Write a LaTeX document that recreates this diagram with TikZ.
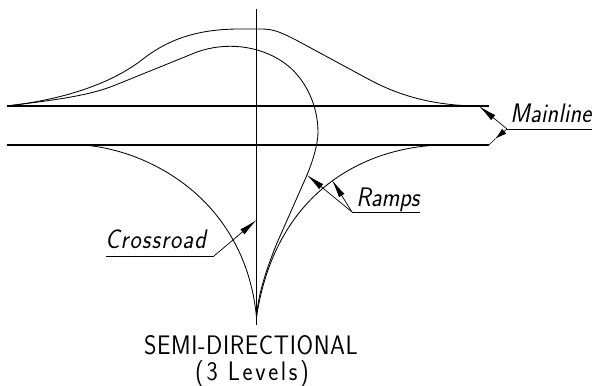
\documentclass[tikz,border=0pt]{standalone}
\usepackage{fontspec}
\setsansfont{Latin Modern Sans}
\usetikzlibrary{arrows.meta}
\newcommand{\cadtext}[2]{\scalebox{1}[1.12]{\addfontfeature{LetterSpace=#1}#2}}
\tikzset{
  road/.style={line width=1.1pt},
  ramp/.style={line width=0.6pt},
  thinline/.style={line width=0.5pt},
  leader/.style={thinline,-{Latex[length=13pt,width=4.6pt]}},
  shortleader/.style={thinline,-{Latex[length=8.5pt,width=4.6pt]}},
  tag/.style={font=\sffamily\itshape\fontsize{17pt}{17pt}\selectfont,inner sep=0pt,anchor=base west},
  title/.style={font=\sffamily\fontsize{17pt}{17pt}\selectfont,inner sep=0pt,anchor=base}
}
\begin{document}
\begin{tikzpicture}[x=0.025cm,y=-0.025cm]
  \useasboundingbox (0,0) rectangle (593,386);
  %mainline
  \draw[road] (7,106) -- (489,106);
  \draw[road] (7,145) -- (489,145);
  %crossroad
  \draw[line width=0.7pt] (256.5,9) -- (256.5,325);
  %ramps
  \draw[ramp] (7,106) .. controls (60,100) and (110,85) .. (143,59) .. controls (170,38) and (200,29) .. (240,29) -- (262,29) .. controls (275,29) and (284,34) .. (296,40) -- (370,80) .. controls (400,96) and (435,106) .. (480,106);
  \draw[ramp] (7,106) .. controls (45,101) and (85,97) .. (113,86) -- (197,52) .. controls (225,42) and (258,45) .. (283,62) .. controls (305,77) and (318,105) .. (318,132) .. controls (318,145) and (312,163) .. (307,175);
  \draw[ramp] (307,175) -- (277,243) .. controls (266,270) and (258,295) .. (256.5,317);
  \draw[ramp] (83,145) .. controls (150,150) and (245,200) .. (256.5,317);
  \draw[ramp] (440,145) .. controls (360,148) and (275,195) .. (256.5,317);
  %labels
  \node[tag] (mainlinetext) at (510,123) {\cadtext{1}{Mainline}};
  \node[tag] (rampstext) at (356,207) {\cadtext{0}{Ramps}};
  \node[tag] (crossroadtext) at (105,249) {\cadtext{4.7}{Crossroad}};
  \node[title] (titletext) at (251,355) {\cadtext{2.5}{SEMI-DIRECTIONAL}};
  \node[title] (leveltext) at (252,381) {\cadtext{11}{(3 Levels)}};
  %leaders
  \coordinate (mainlinea) at (507,129);
  \coordinate (mainlineb) at (592,129);
  \coordinate (mainlinetop) at (479,106);
  \coordinate (mainlinemid) at (495,139);
  \coordinate (mainlinebot) at (489,145);
  \draw[thinline] (mainlinea) -- (mainlineb);
  \draw[leader] (mainlinea) -- (mainlinetop);
  \draw[shortleader] (mainlinea) -- (mainlinemid);
  \draw[thinline] (mainlinemid) -- (mainlinebot);
  \coordinate (rampsa) at (352,212);
  \coordinate (rampsb) at (420,212);
  \coordinate (rampstipa) at (307,175);
  \coordinate (rampstipb) at (332,180);
  \draw[thinline] (rampsa) -- (rampsb);
  \draw[leader] (rampsa) -- (rampstipa);
  \draw[leader] (rampsa) -- (rampstipb);
  \coordinate (crossa) at (106,256);
  \coordinate (crossb) at (214,256);
  \coordinate (crosstip) at (256.5,220);
  \draw[thinline] (crossa) -- (crossb);
  \draw[leader] (crossb) -- (crosstip);
\end{tikzpicture}
\end{document}
